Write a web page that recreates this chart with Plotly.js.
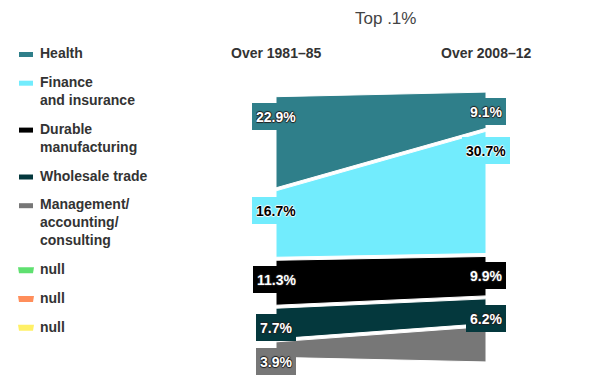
<!DOCTYPE html>
<html>
<head>
<meta charset="utf-8">
<script src="https://cdn.plot.ly/plotly-3.0.1.min.js"></script>
<style>html,body{margin:0;padding:0;background:#fff}#chart{width:600px;height:391px}</style>
</head>
<body>
<div id="chart"></div>
<script>
// ---- data ----
var categories = ['Health', 'Finance and insurance', 'Durable manufacturing', 'Wholesale trade', 'Management/accounting/consulting'];
var legendNames = ['Health', 'Finance<br>and insurance', 'Durable<br>manufacturing', 'Wholesale trade', 'Management/<br>accounting/<br>consulting'];
var periods = ['Over 1981–85', 'Over 2008–12'];
var share1981 = [22.9, 16.7, 11.3, 7.7, 3.9];
var share2008 = [9.1, 30.7, 9.9, 6.2, 8.9];
var leftLabels = ['22.9%', '16.7%', '11.3%', '7.7%', '3.9%'];
var rightLabels = ['9.1%', '30.7%', '9.9%', '6.2%', ''];
var bandColors = ['#2F7F8A', '#72ECFD', '#000000', '#04383D', '#777777'];
var labelTextColors = ['#ffffff', '#000000', '#ffffff', '#ffffff', '#ffffff'];
var extraNames = ['null', 'null', 'null'];
var extraColors = ['#5FE070', '#FF8E5B', '#FFF066'];
var chartTitle = 'Top .1%';

// ---- layout helpers ----
var W = 600, H = 391;
var FONT = 'Liberation Sans, Arial, sans-serif';
var gap = 0.75;
function px(x) { return x / W; }
function py(y) { return 1 - y / H; }

function stack(vals) {
  var total = vals.reduce(function (a, b) { return a + b; }, 0) + gap * (vals.length - 1);
  var cur = total / 2, out = [];
  vals.forEach(function (v) { out.push([cur, cur - v]); cur = cur - v - gap; });
  return out;
}
var sL = stack(share1981), sR = stack(share2008);

var traces = [];
var annotations = [];
var shapes = [];

categories.forEach(function (c, i) {
  traces.push({
    type: 'scatter', mode: 'lines', name: c,
    x: [0, 1, 1, 0, 0],
    y: [sL[i][0], sR[i][0], sR[i][1], sL[i][1], sL[i][0]],
    fill: 'toself', fillcolor: bandColors[i],
    line: { color: '#ffffff', width: 1 },
    hoverinfo: 'skip', showlegend: false
  });
});

var shadowDark = '1px 0 1px #222, -1px 0 1px #222, 0 1px 1px #222, 0 -1px 1px #222';
var shadowLight = '1px 0 1px #fff, -1px 0 1px #fff, 0 1px 1px #fff, 0 -1px 1px #fff';
categories.forEach(function (c, i) {
  [[0, leftLabels[i], sL[i][0]], [1, rightLabels[i], sR[i][0]]].forEach(function (d) {
    if (!d[1]) return;
    annotations.push({
      x: d[0], y: d[2], xref: 'x', yref: 'y', xanchor: 'center', yanchor: 'top', yshift: -6,
      text: d[1], showarrow: false, bgcolor: bandColors[i], borderpad: 4, borderwidth: 0, height: 19,
      font: { family: FONT, size: 14, weight: 'bold', color: labelTextColors[i],
              shadow: labelTextColors[i] === '#ffffff' ? shadowDark : shadowLight }
    });
  });
});

// column headers
periods.forEach(function (p, i) {
  annotations.push({
    x: i, y: py(53), xref: 'x', yref: 'paper', xanchor: 'center', yanchor: 'middle',
    text: p, showarrow: false, font: { family: FONT, size: 14, weight: 'bold', color: '#333' }
  });
});
// title
annotations.push({
  x: px(385), y: py(18), xref: 'paper', yref: 'paper', xanchor: 'center', yanchor: 'middle',
  text: chartTitle, showarrow: false, font: { family: FONT, size: 17, color: '#444' }
});

// legend (manual)
var legNames = legendNames.concat(extraNames);
var legColors = bandColors.concat(extraColors);
var yc = 53;
legNames.forEach(function (n, i) {
  var lines = n.split('<br>').length;
  if (i < legendNames.length) {
    shapes.push({ type: 'rect', xref: 'paper', yref: 'paper', x0: px(19), x1: px(33), y0: py(yc - 1), y1: py(yc + 4),
      fillcolor: legColors[i], line: { width: 0 } });
  } else {
    shapes.push({ type: 'path', xref: 'paper', yref: 'paper',
      path: 'M' + px(18) + ',' + py(yc - 2) + ' L' + px(34) + ',' + py(yc - 2) + ' L' + px(33) + ',' + py(yc + 4) + ' L' + px(19) + ',' + py(yc + 4) + ' Z',
      fillcolor: legColors[i], line: { width: 0 } });
  }
  annotations.push({
    x: px(38), y: py(yc - 10), xref: 'paper', yref: 'paper', xanchor: 'left', yanchor: 'top', align: 'left',
    text: n, showarrow: false, font: { family: FONT, size: 14, weight: 'bold', color: '#333' }
  });
  yc += 28.7 + 18.2 * (lines - 1);
});

var layout = {
  width: W, height: H, margin: { l: 0, r: 0, t: 0, b: 0 },
  paper_bgcolor: '#fff', plot_bgcolor: 'rgba(0,0,0,0)', showlegend: false,
  xaxis: { domain: [192 / W, 570 / W], range: [-0.4, 1.4], visible: false, fixedrange: true },
  yaxis: { domain: [0, 1], range: [-41.2, 57.04], visible: false, fixedrange: true },
  annotations: annotations, shapes: shapes
};
Plotly.newPlot('chart', traces, layout, { displayModeBar: false, staticPlot: true });
</script>
</body>
</html>
